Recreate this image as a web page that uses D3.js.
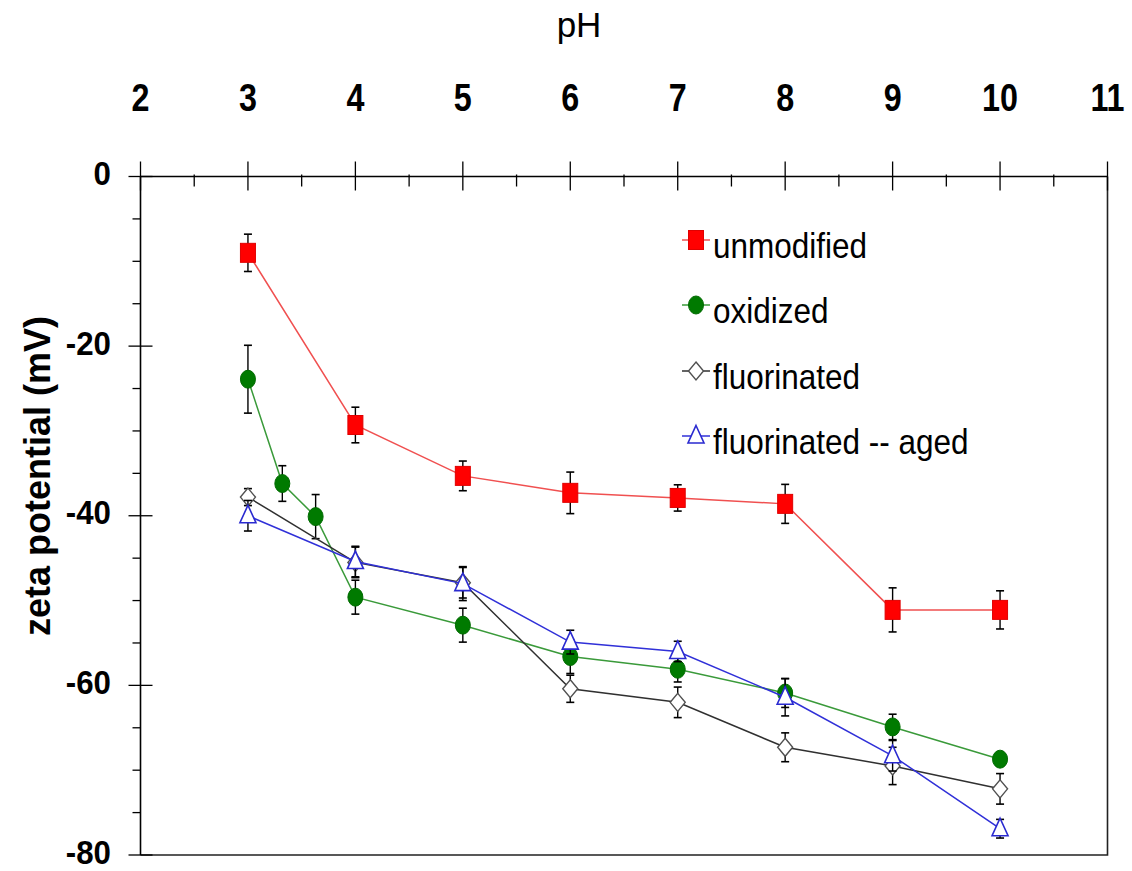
<!DOCTYPE html>
<html>
<head>
<meta charset="utf-8">
<script src="https://cdn.jsdelivr.net/npm/d3@7"></script>
<style>
  html, body { margin: 0; padding: 0; background: #ffffff; }
  svg { display: block; }
  text { font-family: "Liberation Sans", Arial, sans-serif; fill: #000; }
</style>
</head>
<body>
<svg id="chart" width="1132" height="871"></svg>
<script>
// ---- data: zeta potential (mV) vs pH ----
const xTickValues = [2, 3, 4, 5, 6, 7, 8, 9, 10, 11];
const yTickValues = [0, -20, -40, -60, -80];

const seriesNames = ["unmodified", "oxidized", "fluorinated", "fluorinated -- aged"];

const unmodifiedPH   = [3, 4, 5, 6, 7, 8, 9, 10];
const unmodifiedZeta = [-9.0, -29.3, -35.3, -37.3, -37.9, -38.6, -51.1, -51.1];
const unmodifiedErr  = [2.2, 2.1, 1.75, 2.45, 1.55, 2.3, 2.6, 2.25];

const oxidizedPH   = [3, 3.32, 3.63, 4, 5, 6, 7, 8, 9, 10];
const oxidizedZeta = [-23.9, -36.2, -40.1, -49.6, -52.9, -56.6, -58.1, -60.9, -64.9, -68.7];
const oxidizedErr  = [4.0, 2.1, 2.6, 2.0, 2.0, 2.0, 1.5, 1.7, 1.5, 0.8];

const fluorinatedPH   = [3, 4, 5, 6, 7, 8, 9, 10];
const fluorinatedZeta = [-37.8, -45.5, -47.9, -60.4, -62.0, -67.3, -69.5, -72.2];
const fluorinatedErr  = [1.0, 1.8, 1.8, 1.6, 1.8, 1.7, 2.2, 1.8];

const agedPH   = [3, 4, 5, 6, 7, 8, 9, 10];
const agedZeta = [-40.0, -45.4, -48.0, -54.9, -56.0, -61.4, -68.3, -76.9];
const agedErr  = [1.8, 1.8, 2.0, 1.4, 1.2, 2.2, 1.8, 1.1];

// ---- layout ----
const svg = d3.select("#chart");
const plotL = 140.5, plotR = 1107.5, plotT = 176.5, plotB = 855;

const x = d3.scaleLinear().domain([2, 11]).range([plotL, plotR]);
const y = d3.scaleLinear().domain([0, -80]).range([plotT, plotB]);

// series styles
const styles = [
  { line: "#f05050", fill: "#ff0000", stroke: "#e00000", shape: "square" },
  { line: "#3a9a3a", fill: "#007a00", stroke: "#006a00", shape: "circle" },
  { line: "#303030", fill: "#ffffff", stroke: "#505050", shape: "diamond" },
  { line: "#3030d8", fill: "#ffffff", stroke: "#2a2ad0", shape: "triangle" }
];

const series = [
  { name: seriesNames[0], ph: unmodifiedPH, z: unmodifiedZeta, e: unmodifiedErr },
  { name: seriesNames[1], ph: oxidizedPH, z: oxidizedZeta, e: oxidizedErr },
  { name: seriesNames[2], ph: fluorinatedPH, z: fluorinatedZeta, e: fluorinatedErr },
  { name: seriesNames[3], ph: agedPH, z: agedZeta, e: agedErr }
].map((s, i) => ({ ...s, style: styles[i],
  pts: s.ph.map((p, j) => ({ ph: p, z: s.z[j], e: s.e[j] })) }));

// ---- frame (right and bottom edges) ----
svg.append("path")
  .attr("d", `M${plotL},${plotB}H${plotR}V${plotT}`)
  .attr("fill", "none").attr("stroke", "#222").attr("stroke-width", 1.6);

// ---- top pH axis ----
const xAxis = svg.append("g");
xAxis.append("line").attr("x1", plotL).attr("x2", plotR).attr("y1", plotT).attr("y2", plotT)
  .attr("stroke", "#000").attr("stroke-width", 1.6);
xAxis.selectAll(".xmaj").data(xTickValues).join("line")
  .attr("x1", d => x(d)).attr("x2", d => x(d))
  .attr("y1", plotT - 15).attr("y2", plotT + 14)
  .attr("stroke", "#000").attr("stroke-width", 1.3);
const xMinor = d3.range(2.5, 11, 1);
xAxis.selectAll(".xmin").data(xMinor).join("line")
  .attr("x1", d => x(d)).attr("x2", d => x(d))
  .attr("y1", plotT - 2).attr("y2", plotT + 10)
  .attr("stroke", "#000").attr("stroke-width", 1.3);
xAxis.selectAll(".xlab").data(xTickValues).join("text")
  .attr("transform", d => `translate(${x(d)},111) scale(0.85,1)`)
  .attr("text-anchor", "middle")
  .style("font-size", "38px").style("font-weight", "bold")
  .text(d => d);
svg.append("text").attr("x", 579).attr("y", 37)
  .attr("text-anchor", "middle").style("font-size", "35px").text("pH");

// ---- left zeta axis ----
const yAxis = svg.append("g");
yAxis.append("line").attr("x1", plotL).attr("x2", plotL).attr("y1", plotT).attr("y2", plotB)
  .attr("stroke", "#000").attr("stroke-width", 1.6);
yAxis.selectAll(".ymaj").data(yTickValues).join("line")
  .attr("x1", plotL - 12).attr("x2", plotL + 12)
  .attr("y1", d => y(d)).attr("y2", d => y(d))
  .attr("stroke", "#000").attr("stroke-width", 1.3);
const yMinor = d3.range(-5, -80, -5).filter(v => v % 20 !== 0);
yAxis.selectAll(".ymin").data(yMinor).join("line")
  .attr("x1", plotL - 8).attr("x2", plotL)
  .attr("y1", d => y(d)).attr("y2", d => y(d))
  .attr("stroke", "#000").attr("stroke-width", 1.3);
yAxis.selectAll(".ylab").data(yTickValues).join("text")
  .attr("transform", d => `translate(111,${y(d) + 8.5}) scale(0.92,1)`)
  .attr("text-anchor", "end")
  .style("font-size", "34px").style("font-weight", "bold")
  .text(d => d);
svg.append("text")
  .attr("transform", `translate(50,476) rotate(-90)`)
  .attr("text-anchor", "middle")
  .style("font-size", "36px").style("font-weight", "bold")
  .text("zeta potential (mV)");

// ---- markers ----
function drawMarker(g, shape, st) {
  if (shape === "square") {
    g.append("rect").attr("x", -7.5).attr("y", -9.5).attr("width", 15).attr("height", 19)
      .attr("fill", st.fill).attr("stroke", st.stroke).attr("stroke-width", 1);
  } else if (shape === "circle") {
    g.append("ellipse").attr("rx", 7.5).attr("ry", 9)
      .attr("fill", st.fill).attr("stroke", st.stroke).attr("stroke-width", 1);
  } else if (shape === "diamond") {
    g.append("path").attr("d", "M0,-9L7.5,0L0,9L-7.5,0Z")
      .attr("fill", st.fill).attr("stroke", st.stroke).attr("stroke-width", 1.4);
  } else {
    g.append("path").attr("d", "M0,-10.5L8,7L-8,7Z")
      .attr("fill", st.fill).attr("stroke", st.stroke).attr("stroke-width", 1.6);
  }
}

const lineGen = d3.line().x(d => x(d.ph)).y(d => y(d.z));

series.forEach(s => {
  const g = svg.append("g");
  // error bars
  const eb = g.selectAll(".eb").data(s.pts).join("g");
  eb.append("line")
    .attr("x1", d => x(d.ph)).attr("x2", d => x(d.ph))
    .attr("y1", d => y(d.z + d.e)).attr("y2", d => y(d.z - d.e))
    .attr("stroke", "#000").attr("stroke-width", 1.4);
  eb.append("line")
    .attr("x1", d => x(d.ph) - 4).attr("x2", d => x(d.ph) + 4)
    .attr("y1", d => y(d.z + d.e)).attr("y2", d => y(d.z + d.e))
    .attr("stroke", "#000").attr("stroke-width", 1.6);
  eb.append("line")
    .attr("x1", d => x(d.ph) - 4).attr("x2", d => x(d.ph) + 4)
    .attr("y1", d => y(d.z - d.e)).attr("y2", d => y(d.z - d.e))
    .attr("stroke", "#000").attr("stroke-width", 1.6);
  // connecting line
  g.append("path").datum(s.pts).attr("d", lineGen)
    .attr("fill", "none").attr("stroke", s.style.line).attr("stroke-width", 1.5);
  // point markers
  s.pts.forEach(d => {
    const m = g.append("g").attr("transform", `translate(${x(d.ph)},${y(d.z)})`);
    drawMarker(m, s.style.shape, s.style);
  });
});

// ---- legend ----
const legend = svg.append("g");
const legendRows = [240, 305, 371, 436];
series.forEach((s, i) => {
  const ly = legendRows[i];
  const row = legend.append("g").attr("transform", `translate(696,${ly})`);
  row.append("line").attr("x1", -14).attr("x2", 14).attr("y1", 0).attr("y2", 0)
    .attr("stroke", s.style.line).attr("stroke-width", 1.5);
  drawMarker(row, s.style.shape, s.style);
  row.append("text")
    .attr("transform", "translate(17,18) scale(0.9,1)")
    .style("font-size", "35px")
    .text(s.name);
});
</script>
</body>
</html>
